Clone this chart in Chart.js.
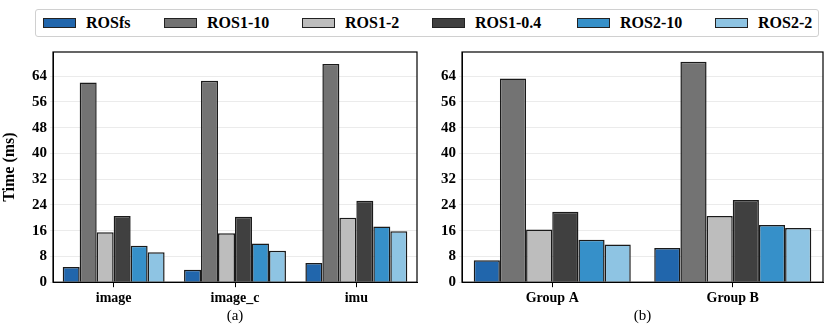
<!DOCTYPE html>
<html><head><meta charset="utf-8">
<script src="https://cdn.jsdelivr.net/npm/chart.js@4/dist/chart.umd.min.js"></script>
<style>
body{margin:0;width:830px;height:331px;background:#fff;position:relative;overflow:hidden;font-family:"Liberation Serif",serif;}
#legend{position:absolute;left:35px;top:9px;width:784px;height:28px;border:1px solid #d0d0d0;border-radius:3px;box-sizing:border-box;}
.sw{position:absolute;top:8px;width:31px;height:8px;border:1px solid #222;}
.tx{position:absolute;top:3px;font-weight:bold;font-size:16px;line-height:20px;color:#000;}
#wa{position:absolute;left:0;top:40px;width:422px;height:291px;}
#wb{position:absolute;left:420px;top:40px;width:410px;height:291px;}
</style></head><body>
<div id="legend"></div>
<div id="wa"><canvas id="ca"></canvas></div>
<div id="wb"><canvas id="cb"></canvas></div>
<script>
const seriesNames = ["ROSfs","ROS1-10","ROS1-2","ROS1-0.4","ROS2-10","ROS2-2"];
const seriesColors = ["#2166ac","#737373","#bdbdbd","#404040","#3690c9","#8ec4e3"];
const categoriesA = ["image","image_c","imu"];
const categoriesB = ["Group A","Group B"];
const rosfsA   = [4.75, 3.9, 6.0];
const ros1_10A = [62.0, 62.6, 67.8];
const ros1_2A  = [15.5, 15.2, 20.0];
const ros1_04A = [20.6, 20.3, 25.3];
const ros2_10A = [11.3, 12.0, 17.3];
const ros2_2A  = [9.3, 9.8, 15.8];
const rosfsB   = [6.8, 10.6];
const ros1_10B = [63.3, 68.5];
const ros1_2B  = [16.4, 20.6];
const ros1_04B = [21.9, 25.5];
const ros2_10B = [13.2, 17.8];
const ros2_2B  = [11.7, 16.8];
const yTicks = [0,8,16,24,32,40,48,56,64];

const legendX = [7,128,266,396,541,679];
const lg = document.getElementById('legend');
seriesNames.forEach((n,i)=>{
  const s=document.createElement('div');s.className='sw';s.style.left=legendX[i]+'px';s.style.background=seriesColors[i];lg.appendChild(s);
  const t=document.createElement('div');t.className='tx';t.style.left=(legendX[i]+43)+'px';t.textContent=n;lg.appendChild(t);
});

const F = {family:'"Liberation Serif", serif', weight:'bold'};
const boxPlugin = {id:'box',afterDraw(c){const a=c.chartArea,x=c.ctx;x.save();x.strokeStyle='#000';x.lineWidth=1.2;x.strokeRect(a.left,a.top,a.right-a.left,a.bottom-a.top);x.restore();}};

function makeChart(id, cats, vals, sub, showTitle, yWidth, catPct, padR){
  return new Chart(document.getElementById(id),{
    type:'bar',
    data:{labels:cats,datasets:vals.map((v,i)=>({label:seriesNames[i],data:v,backgroundColor:seriesColors[i],borderColor:'#1a1a1a',borderWidth:1.5,categoryPercentage:catPct,barPercentage:1}))},
    options:{responsive:true,maintainAspectRatio:false,animation:false,
      layout:{padding:{top:1,right:padR,left:0,bottom:6}},
      plugins:{legend:{display:false},tooltip:{enabled:false}},
      scales:{
        x:{grid:{display:true,drawOnChartArea:false,drawTicks:true,tickLength:5,color:'#000',offset:false},border:{color:'#000'},
           ticks:{color:'#000',font:{...F,size:14},padding:3,maxRotation:0},
           title:{display:true,text:sub,color:'#000',font:{...F,size:15,weight:'normal'},padding:{top:-3,bottom:0}}},
        y:{min:0,max:71.5,grid:{color:'#ebebeb',drawTicks:true,tickLength:3},border:{color:'#000'},
           afterBuildTicks(s){s.ticks=yTicks.map(v=>({value:v}));},
           afterFit(s){s.width=yWidth;},
           ticks:{color:'#000',font:{...F,size:15},padding:3},
           title:{display:showTitle,text:'Time (ms)',color:'#000',font:{...F,size:16},padding:{top:0,bottom:1}}}
      }},
    plugins:[boxPlugin]
  });
}
makeChart('ca',categoriesA,[rosfsA,ros1_10A,ros1_2A,ros1_04A,ros2_10A,ros2_2A],'(a)',true,53,0.84,5);
makeChart('cb',categoriesB,[rosfsB,ros1_10B,ros1_2B,ros1_04B,ros2_10B,ros2_2B],'(b)',false,42,0.87,7);
</script>
</body></html>
